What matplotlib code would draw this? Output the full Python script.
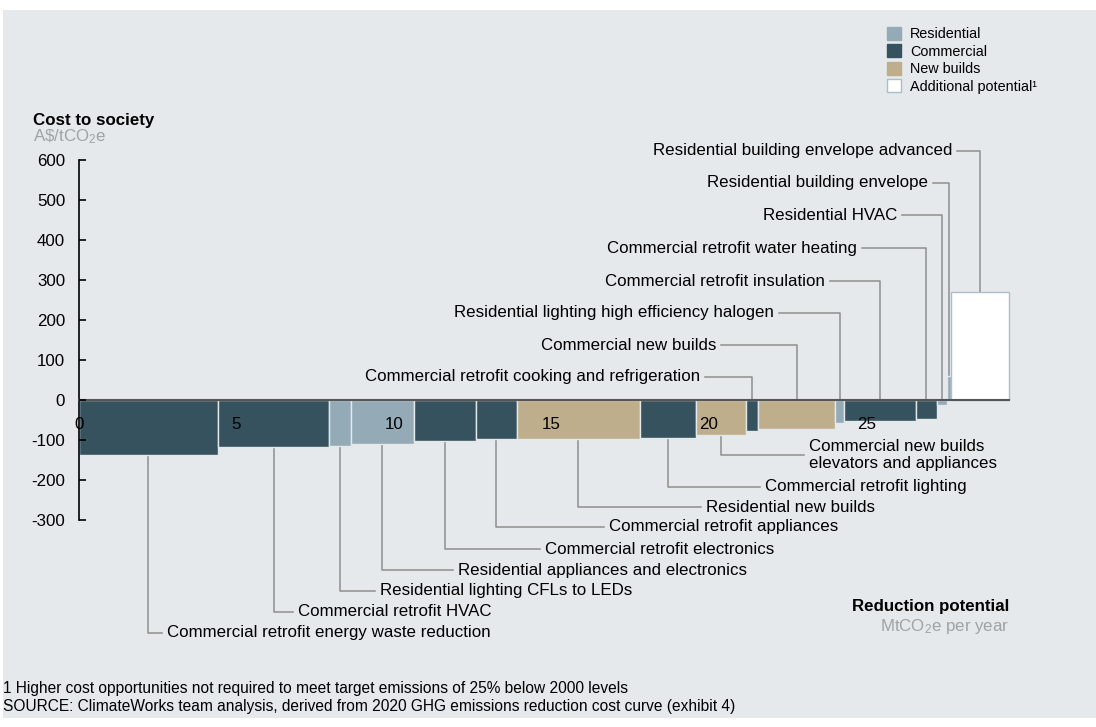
import matplotlib
matplotlib.use('Agg')
import matplotlib.pyplot as plt
from matplotlib.patches import Patch, Rectangle
import numpy as np

plt.rcParams['font.family'] = ['Liberation Sans', 'DejaVu Sans']
plt.rcParams['mathtext.fontset'] = 'custom'
plt.rcParams['mathtext.rm'] = 'Liberation Sans'
plt.rcParams['mathtext.it'] = 'Liberation Sans:italic'
plt.rcParams['mathtext.bf'] = 'Liberation Sans:bold'

# ---------------- data ----------------
measures = [
    "Commercial retrofit energy waste reduction",
    "Commercial retrofit HVAC",
    "Residential lighting CFLs to LEDs",
    "Residential appliances and electronics",
    "Commercial retrofit electronics",
    "Commercial retrofit appliances",
    "Residential new builds",
    "Commercial retrofit lighting",
    "Commercial new builds\nelevators and appliances",
    "Commercial retrofit cooking and refrigeration",
    "Commercial new builds",
    "Residential lighting high efficiency halogen",
    "Commercial retrofit insulation",
    "Commercial retrofit water heating",
    "Residential HVAC",
    "Residential building envelope",
    "Residential building envelope advanced",
]
sectors = [
    "Commercial", "Commercial", "Residential", "Residential", "Commercial",
    "Commercial", "New builds", "Commercial", "New builds", "Commercial",
    "New builds", "Residential", "Commercial", "Commercial", "Residential",
    "Residential", "Additional potential",
]
potential = [4.40, 3.55, 0.68, 2.00, 1.97, 1.29, 3.92, 1.78, 1.60, 0.37,
             2.44, 0.30, 2.26, 0.68, 0.32, 0.12, 1.84]   # MtCO2e per year
cost = [-138, -118, -116, -110, -103, -98, -98, -95, -87, -77,
        -72, -57, -52, -47, -12, 60, 270]               # A$/tCO2e

y_ticks = [-300, -200, -100, 0, 100, 200, 300, 400, 500, 600]
x_ticks = [0, 5, 10, 15, 20, 25]

legend_labels = ["Residential", "Commercial", "New builds", "Additional potential\u00b9"]

# ---------------- styles / layout ----------------
colors = {"Residential": "#94ABB7", "Commercial": "#36525E",
          "New builds": "#BFAE8C", "Additional potential": "#FFFFFF"}
edges = {"Residential": "#E3E8EB", "Commercial": "#E3E8EB",
         "New builds": "#E3E8EB", "Additional potential": "#A9C0CB"}
BG = "#E5E9EC"
LINE = "#8E8E8E"
GREY_TXT = "#9EA3A7"
FS = 12.2

W, H = 1096, 727
X0, XS = 79, 31.5      # pixel of x=0, pixels per unit
Y0, YS = 400, 0.4      # pixel of y=0, pixels per A$

def dx(px):
    return (px - X0) / XS

def dy(py):
    return (Y0 - py) / YS

# label layout (pixel positions)
bottom_n = 9
bottom_text_px = [167, 298, 380, 458, 545, 609, 706, 765, 809]
bottom_y_px = [633, 612, 591, 570, 549, 527, 507, 487, 455]
top_end_px = [700, 716, 774, 825, 857, 897, 928, 952]
top_y_px = [377, 345, 313, 281, 248, 215, 183, 151]

fig = plt.figure(figsize=(W / 100, H / 100), dpi=100)
fig.patch.set_facecolor("white")
fig.add_artist(Rectangle((3 / W, 1 - 718 / H), 1 - 3 / W, 708 / H,
                         transform=fig.transFigure, facecolor=BG,
                         edgecolor="none", zorder=0))

ax = fig.add_axes([0, 0, 1, 1])
ax.set_facecolor("none")
ax.set_xlim(dx(0), dx(W))
ax.set_ylim(dy(H), dy(0))

lefts = np.concatenate([[0], np.cumsum(potential)[:-1]])
total = float(np.sum(potential))
centers = lefts + np.array(potential) / 2

ax.bar(lefts, cost, width=potential, align="edge",
       color=[colors[s] for s in sectors],
       edgecolor=[edges[s] for s in sectors], linewidth=1.0, zorder=2)

# axes spines
for s in ["top", "right"]:
    ax.spines[s].set_visible(False)
ax.spines["left"].set_position(("data", 0))
ax.spines["left"].set_bounds(-300, 600)
ax.spines["left"].set_color("black")
ax.spines["left"].set_linewidth(1.2)
ax.spines["bottom"].set_position(("data", 0))
ax.spines["bottom"].set_bounds(0, total)
ax.spines["bottom"].set_color("#555555")
ax.spines["bottom"].set_linewidth(1.5)
ax.spines["bottom"].set_zorder(3)

ax.set_yticks(y_ticks)
ax.set_yticklabels([str(v) for v in y_ticks])
ax.tick_params(axis="y", direction="in", length=5, width=1.2, pad=10,
               labelsize=FS, colors="black")
ax.set_xticks(x_ticks)
ax.set_xticklabels([str(v) for v in x_ticks])
ax.tick_params(axis="x", length=0, pad=12, labelsize=FS)
ax.xaxis.set_zorder(4)
ax.yaxis.set_zorder(4)

# bottom labels (negative bars, first group)
g = 5 / XS
for i in range(bottom_n):
    tx = dx(bottom_text_px[i])
    ty = dy(bottom_y_px[i])
    ax.plot([centers[i], centers[i], tx - g], [cost[i], ty, ty],
            color=LINE, lw=1.1, zorder=1)
    ax.text(tx, ty, measures[i], ha="left", va="center", fontsize=FS,
            linespacing=1.2)

# top labels
for k, i in enumerate(range(bottom_n, len(measures))):
    tx = dx(top_end_px[k])
    ty = dy(top_y_px[k])
    yb = max(cost[i], 0)
    ax.plot([tx + g, centers[i], centers[i]], [ty, ty, yb],
            color=LINE, lw=1.1, zorder=1)
    ax.text(tx, ty, measures[i], ha="right", va="center", fontsize=FS)

# axis titles
ax.text(dx(33), dy(120), "Cost to society", ha="left", va="center",
        fontsize=FS, fontweight="bold")
ax.text(dx(33), dy(137), r"A\$/tCO$_2$e", ha="left", va="center",
        fontsize=FS, color=GREY_TXT)
ax.text(dx(1009), dy(607), "Reduction potential", ha="right", va="center",
        fontsize=FS, fontweight="bold")
ax.text(dx(1009), dy(627), r"MtCO$_2$e per year", ha="right", va="center",
        fontsize=FS, color=GREY_TXT)

# legend
handles = [Patch(facecolor=colors[s], edgecolor=edges[s] if s == "Additional potential" else colors[s])
           for s in ["Residential", "Commercial", "New builds", "Additional potential"]]
leg = ax.legend(handles, legend_labels, loc="upper left",
                bbox_to_anchor=(887 / W, 1 - 27 / H), frameon=False,
                fontsize=10.4, handlelength=1.0, handleheight=1.0,
                handletextpad=0.6, labelspacing=0.21, borderpad=0,
                borderaxespad=0)

# footnotes
fig.text(3 / W, 1 - 688 / H,
         "1 Higher cost opportunities not required to meet target emissions of 25% below 2000 levels",
         ha="left", va="center", fontsize=11.2)
fig.text(3 / W, 1 - 706 / H,
         "SOURCE: ClimateWorks team analysis, derived from 2020 GHG emissions reduction cost curve (exhibit 4)",
         ha="left", va="center", fontsize=11.2)

fig.savefig("out.png", dpi=100, facecolor=fig.get_facecolor())
